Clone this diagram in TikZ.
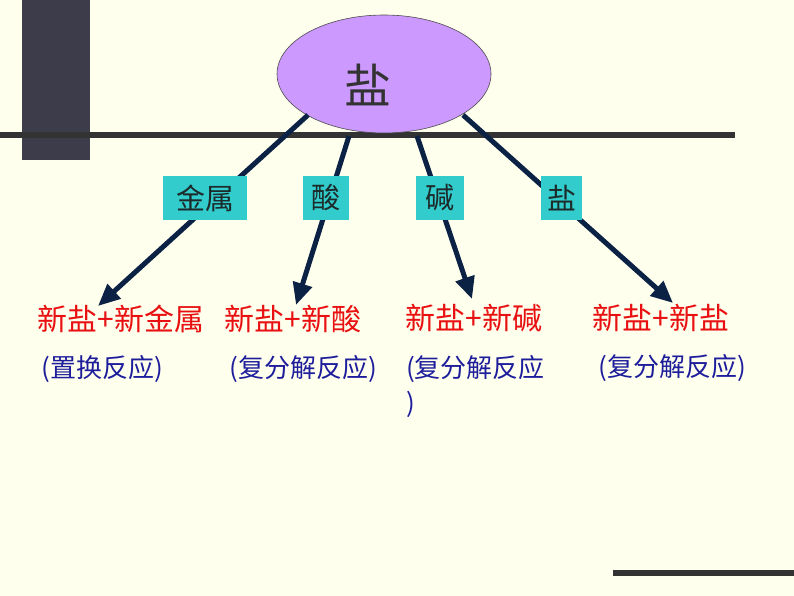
\documentclass[tikz,border=0pt]{standalone}
\usepackage{fontspec}
\newfontfamily\cjk{Noto Sans CJK SC}
\usetikzlibrary{arrows.meta,shapes.geometric}
\definecolor{bg}{HTML}{FFFFEE}
\definecolor{barc}{HTML}{333333}
\definecolor{blockc}{HTML}{3C3C4A}
\definecolor{ellc}{HTML}{CC99FF}
\definecolor{boxc}{HTML}{33CCCC}
\definecolor{arrc}{HTML}{0C2244}
\definecolor{redc}{HTML}{E81010}
\definecolor{bluec}{HTML}{1E1E9C}
\definecolor{darktext}{HTML}{1C2A2A}
\tikzset{
  catbox/.style={fill=boxc, draw=none, minimum height=44pt, inner sep=0pt,
    font=\cjk\fontsize{29}{32}\selectfont, text=darktext},
  resulttext/.style={inner sep=0pt, font=\cjk\fontsize{30}{34}\selectfont, text=redc},
  typetext/.style={inner sep=0pt, font=\cjk\fontsize{26}{35}\selectfont, text=bluec, align=left},
  conn/.style={draw=arrc, line width=5pt, -{Triangle[length=22pt,width=19pt]}},
}
\begin{document}
\begin{tikzpicture}[x=1pt,y=-1pt]
\fill[bg] (0,0) rectangle (794,596);
\useasboundingbox (0,0) rectangle (794,596);
% decorations
\fill[blockc] (22,0) rectangle (90,160);
\fill[barc] (0,132) rectangle (735,138);
\fill[barc] (613,570) rectangle (794,576);
% top ellipse
\node[ellipse, fill=ellc, draw=black!70, line width=0.6pt, minimum width=214pt, minimum height=118pt, inner sep=0pt] (salt) at (384,74) {};
\node[inner sep=0pt, font=\cjk\fontsize{47}{50}\selectfont, text=black!80] (saltlbl) at (368,85) {盐};
% connector endpoints
\coordinate (s1) at (308,115);
\coordinate (s2) at (349,136);
\coordinate (s3) at (417,136);
\coordinate (s4) at (463,115);
\coordinate (t1) at (98,306);
\coordinate (t2) at (296,305);
\coordinate (t3) at (472,299);
\coordinate (t4) at (673,303);
\draw[conn] (s1) -- (t1);
\draw[conn] (s2) -- (t2);
\draw[conn] (s3) -- (t3);
\draw[conn] (s4) -- (t4);
% category boxes
\node[catbox, minimum width=84pt] (metal) at (205,198) {金属};
\node[catbox, minimum width=46pt] (acid) at (326,198) {酸};
\node[catbox, minimum width=48pt] (base) at (440,198) {碱};
\node[catbox, minimum width=41pt] (salt2) at (561.5,198) {盐};
% results
\node[resulttext] (r1) at (121,319) {新盐+新金属};
\node[resulttext] (r2) at (293,319) {新盐+新酸};
\node[resulttext] (r3) at (474,318) {新盐+新碱};
\node[resulttext] (r4) at (661,318) {新盐+新盐};
% reaction types
\node[typetext] (k1) at (102,369) {(置换反应)};
\node[typetext] (k2) at (303,369) {(复分解反应)};
\node[typetext, anchor=north west] (k3) at (406,355) {(复分解反应\\)};
\node[typetext] (k4) at (672,368) {(复分解反应)};
\end{tikzpicture}
\end{document}
